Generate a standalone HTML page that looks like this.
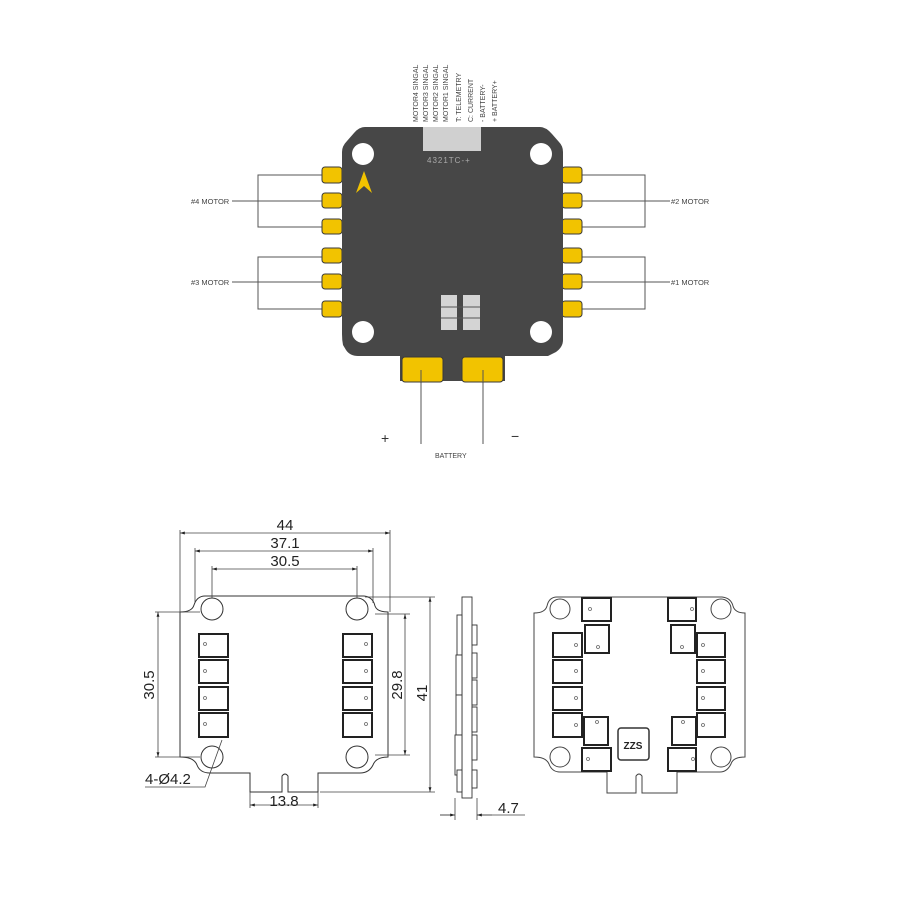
<!DOCTYPE html>
<html><head><meta charset="utf-8"><style>
html,body{margin:0;padding:0;background:#fff;}
svg{display:block;}
text{font-family:"Liberation Sans",sans-serif;}
</style></head><body>
<svg width="900" height="900" viewBox="0 0 900 900" xmlns="http://www.w3.org/2000/svg">
<defs>
<marker id="a" viewBox="0 0 10 10" refX="10" refY="5" markerWidth="8" markerHeight="6" orient="auto-start-reverse"><path d="M0,2 L10,5 L0,8 z" fill="#222"/></marker>
</defs>
<!-- TOP DIAGRAM -->
<g fill="#444" font-size="7">
<text transform="translate(418,122) rotate(-90)">MOTOR4 SINGAL</text>
<text transform="translate(428,122) rotate(-90)">MOTOR3 SINGAL</text>
<text transform="translate(438,122) rotate(-90)">MOTOR2 SINGAL</text>
<text transform="translate(448,122) rotate(-90)">MOTOR1 SINGAL</text>
<text transform="translate(461,122) rotate(-90)">T: TELEMETRY</text>
<text transform="translate(473,122) rotate(-90)">C: CURRENT</text>
<text transform="translate(485,122) rotate(-90)">- BATTERY-</text>
<text transform="translate(497,122) rotate(-90)">+ BATTERY+</text>
</g>
<g stroke="#555" stroke-width="1" fill="none">
<path d="M330,175 H258 V227 H330 M232,201 H330"/>
<path d="M330,257 H258 V309 H330 M232,282 H330"/>
<path d="M575,175 H645 V227 H575 M575,201 H670"/>
<path d="M575,257 H645 V309 H575 M575,282 H670"/>
<path d="M421,370 V444 M483,370 V444"/>
</g>
<g fill="#444" font-size="7.5">
<text x="191" y="204">#4 MOTOR</text>
<text x="191" y="285">#3 MOTOR</text>
<text x="671" y="204">#2 MOTOR</text>
<text x="671" y="285">#1 MOTOR</text>
<text x="435" y="458" font-size="7">BATTERY</text>
</g>
<text x="381" y="443" font-size="14" fill="#333">+</text>
<text x="511" y="441" font-size="14" fill="#333">−</text>
<g fill="#f2c300" stroke="#3a3a3a" stroke-width="1">
<rect x="322" y="167" width="20" height="16" rx="3"/><rect x="322" y="193" width="20" height="15" rx="3"/><rect x="322" y="219" width="20" height="15" rx="3"/>
<rect x="322" y="248" width="20" height="15" rx="3"/><rect x="322" y="274" width="20" height="15" rx="3"/><rect x="322" y="301" width="20" height="16" rx="3"/>
<rect x="562" y="167" width="20" height="16" rx="3"/><rect x="562" y="193" width="20" height="15" rx="3"/><rect x="562" y="219" width="20" height="15" rx="3"/>
<rect x="562" y="248" width="20" height="15" rx="3"/><rect x="562" y="274" width="20" height="15" rx="3"/><rect x="562" y="301" width="20" height="16" rx="3"/>
</g>
<path d="M365,127 H540 Q546,127 552,134 L559,142 Q563,146 563,152 V340 Q563,347 556,352 L548,356 H505 V381 H400 V356 H358 Q350,356 346,350 L343,345 Q342,340 342,334 V152 Q342,146 347,141 L354,133 Q359,127 365,127 Z" fill="#474747"/>
<g fill="#f2c300" stroke="#3a3a3a" stroke-width="1">
<rect x="402" y="357" width="41" height="25" rx="3"/><rect x="462" y="357" width="41" height="25" rx="3"/>
</g>
<path d="M421,370 V382 M483,370 V382" stroke="#555"/>
<g fill="#fff"><circle cx="363" cy="154" r="11"/><circle cx="541" cy="154" r="11"/><circle cx="363" cy="332" r="11"/><circle cx="541" cy="332" r="11"/></g>
<rect x="423" y="127" width="58" height="24" fill="#d0d0d0"/>
<text x="427" y="163" font-size="8" fill="#aaa" letter-spacing="1">4321TC-+</text>
<path d="M356,193 L364,171 L372,193 L364,186 Z" fill="#f2c300"/>
<g fill="#d4d4d4"><rect x="441" y="295" width="16" height="35"/><rect x="463" y="295" width="17" height="35"/></g>
<path d="M441,307 H480 M441,318 H480" stroke="#555" stroke-width="1"/>

<!-- BOTTOM LEFT -->
<g stroke="#333" stroke-width="1" fill="none">
<path d="M205,596 H364 Q373,597 375,606 Q377,612 388,612 V757 Q376,757 373,765 Q369,773 360,773 H318 V792 H288 V776 Q285,772 282,776 V792 H250 V773 H210 Q200,773 197,765 Q194,757 180,757 V612 Q192,612 194,605 Q197,596 205,596 Z"/>
<circle cx="212" cy="609" r="11"/><circle cx="357" cy="609" r="11"/><circle cx="212" cy="757" r="11"/><circle cx="357" cy="757" r="11"/>
</g>
<g stroke="#222" stroke-width="2" fill="#fff">
<rect x="199" y="634" width="29" height="23"/><rect x="199" y="660" width="29" height="23"/><rect x="199" y="687" width="29" height="23"/><rect x="199" y="713" width="29" height="24"/>
<rect x="343" y="634" width="29" height="23"/><rect x="343" y="660" width="29" height="23"/><rect x="343" y="687" width="29" height="23"/><rect x="343" y="713" width="29" height="24"/>
</g>
<g fill="none" stroke="#666" stroke-width="0.8">
<circle cx="205" cy="644" r="1.5"/><circle cx="205" cy="671" r="1.5"/><circle cx="205" cy="698" r="1.5"/><circle cx="205" cy="724" r="1.5"/>
<circle cx="366" cy="644" r="1.5"/><circle cx="366" cy="671" r="1.5"/><circle cx="366" cy="698" r="1.5"/><circle cx="366" cy="724" r="1.5"/>
</g>
<g stroke="#444" stroke-width="0.8" fill="none">
<path d="M180,612 V530 M390,612 V530 M195,603 V548 M373,603 V548 M212,598 V566 M357,598 V566"/>
<path d="M155,612 H200 M155,757 H200 M375,614 H410 M375,755 H410 M365,597 H435 M320,792 H435 M250,792 V808 M318,792 V808"/>
<path d="M180,533 H390" marker-start="url(#a)" marker-end="url(#a)"/>
<path d="M195,551 H373" marker-start="url(#a)" marker-end="url(#a)"/>
<path d="M212,569 H357" marker-start="url(#a)" marker-end="url(#a)"/>
<path d="M158,612 V757" marker-start="url(#a)" marker-end="url(#a)"/>
<path d="M405,614 V755" marker-start="url(#a)" marker-end="url(#a)"/>
<path d="M430,597 V792" marker-start="url(#a)" marker-end="url(#a)"/>
<path d="M250,805 H318" marker-start="url(#a)" marker-end="url(#a)"/>
<path d="M145,787 H205 L222,740"/>
</g>
<g fill="#222" font-size="15">
<text x="285" y="530" text-anchor="middle">44</text>
<text x="285" y="548" text-anchor="middle">37.1</text>
<text x="285" y="566" text-anchor="middle">30.5</text>
<text transform="translate(154,685) rotate(-90)" text-anchor="middle">30.5</text>
<text transform="translate(402,685) rotate(-90)" text-anchor="middle">29.8</text>
<text transform="translate(427,693) rotate(-90)" text-anchor="middle">41</text>
<text x="284" y="806" text-anchor="middle">13.8</text>
<text x="145" y="784">4-Ø4.2</text>
<text x="498" y="813">4.7</text>
</g>

<!-- side view -->
<g stroke="#333" stroke-width="0.9" fill="#fff">
<rect x="462" y="597" width="10" height="201"/>
<rect x="457" y="615" width="5" height="40"/><rect x="456" y="655" width="6" height="40"/><rect x="456" y="695" width="6" height="40"/><rect x="455" y="735" width="7" height="40"/><rect x="457" y="770" width="5" height="22"/>
<rect x="472" y="625" width="5" height="20"/><rect x="472" y="653" width="5" height="25"/><rect x="472" y="680" width="5" height="25"/><rect x="472" y="707" width="5" height="25"/><rect x="472" y="735" width="5" height="25"/><rect x="472" y="770" width="5" height="18"/>
</g>
<g stroke="#444" stroke-width="0.8" fill="none">
<path d="M455,798 V820 M477,798 V820 M440,815 H455 M477,815 H525"/>
<path d="M440,815 H455" marker-end="url(#a)"/><path d="M492,815 H477" marker-end="url(#a)"/>
</g>

<!-- back view -->
<g stroke="#444" stroke-width="1" fill="none">
<path d="M557,597 H722 Q731,598 733,606 Q735,613 745,613 V757 Q733,757 731,764 Q727,772 720,772 H677 V793 H642 V776 Q639,772 636,776 V793 H607 V772 H560 Q552,772 549,764 Q546,757 534,757 V613 Q545,613 547,606 Q549,597 557,597 Z"/>
<circle cx="560" cy="609" r="10"/><circle cx="721" cy="609" r="10"/><circle cx="560" cy="757" r="10"/><circle cx="721" cy="757" r="10"/>
</g>
<g stroke="#222" stroke-width="2" fill="#fff">
<rect x="582" y="598" width="29" height="23"/><rect x="668" y="598" width="28" height="23"/>
<rect x="585" y="625" width="24" height="28"/><rect x="671" y="625" width="24" height="28"/>
<rect x="553" y="633" width="29" height="24"/><rect x="553" y="660" width="29" height="23"/><rect x="553" y="687" width="29" height="23"/><rect x="553" y="713" width="29" height="24"/>
<rect x="697" y="633" width="28" height="24"/><rect x="697" y="660" width="28" height="23"/><rect x="697" y="687" width="28" height="23"/><rect x="697" y="713" width="28" height="24"/>
<rect x="584" y="717" width="24" height="28"/><rect x="672" y="717" width="24" height="28"/>
<rect x="582" y="748" width="29" height="23"/><rect x="668" y="748" width="28" height="23"/>
</g>
<g fill="none" stroke="#666" stroke-width="0.8">
<circle cx="590" cy="609" r="1.5"/><circle cx="692" cy="609" r="1.5"/><circle cx="598" cy="647" r="1.5"/><circle cx="682" cy="647" r="1.5"/>
<circle cx="576" cy="645" r="1.5"/><circle cx="576" cy="671" r="1.5"/><circle cx="576" cy="698" r="1.5"/><circle cx="576" cy="725" r="1.5"/>
<circle cx="703" cy="645" r="1.5"/><circle cx="703" cy="671" r="1.5"/><circle cx="703" cy="698" r="1.5"/><circle cx="703" cy="725" r="1.5"/>
<circle cx="597" cy="722" r="1.5"/><circle cx="683" cy="722" r="1.5"/><circle cx="588" cy="759" r="1.5"/><circle cx="693" cy="759" r="1.5"/>
</g>
<rect x="618" y="728" width="31" height="32" rx="3" fill="#fff" stroke="#333" stroke-width="1.5"/>
<text x="633" y="749" font-size="10" fill="#222" text-anchor="middle" font-weight="bold">ZZS</text>
</svg>
</body></html>
